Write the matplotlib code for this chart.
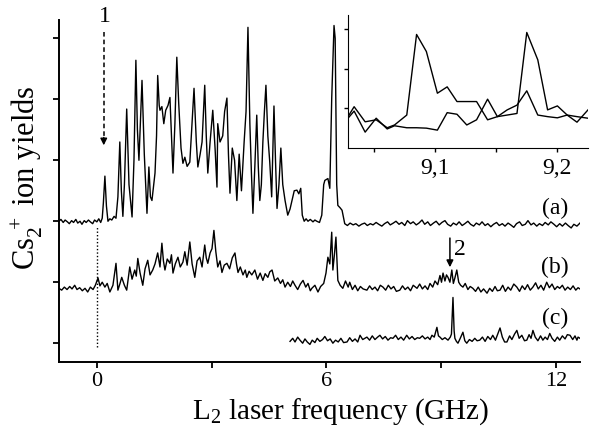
import numpy as np
import matplotlib.pyplot as plt

plt.rcParams['font.family'] = ['Liberation Serif', 'DejaVu Serif']
plt.rcParams['mathtext.fontset'] = 'custom'
plt.rcParams['mathtext.rm'] = 'Liberation Serif'
plt.rcParams['mathtext.it'] = 'Liberation Serif:italic'

# spectrum (a): (frequency GHz, yield)
trace_a = [
    (-0.99, 2.00), (-0.94, 2.03), (-0.88, 1.98), (-0.83, 2.02), (-0.77, 1.99), (-0.72, 1.96),
    (-0.66, 2.01), (-0.61, 1.98), (-0.55, 2.03), (-0.50, 1.97), (-0.44, 2.00), (-0.39, 1.95),
    (-0.33, 2.01), (-0.28, 1.98), (-0.22, 2.02), (-0.17, 1.99), (-0.11, 1.96), (-0.06, 2.02),
    (0.00, 1.99), (0.05, 2.04), (0.10, 1.98), (0.14, 2.05),
    (0.17, 2.30), (0.21, 2.74), (0.25, 2.25), (0.29, 2.00), (0.34, 2.04), (0.39, 2.02),
    (0.45, 2.08), (0.50, 2.05), (0.55, 2.40), (0.60, 3.30), (0.64, 2.50), (0.68, 2.08),
    (0.72, 2.60), (0.78, 3.84), (0.84, 2.60), (0.92, 2.07), (0.97, 3.00), (1.02, 4.64),
    (1.06, 3.50), (1.10, 3.00), (1.18, 4.31), (1.24, 3.10), (1.31, 2.13), (1.36, 2.89),
    (1.40, 2.40), (1.44, 2.34), (1.52, 2.79), (1.56, 3.40), (1.59, 4.39), (1.63, 3.90),
    (1.65, 3.82), (1.70, 3.88), (1.75, 3.60), (1.80, 3.82), (1.86, 3.90), (1.91, 4.03),
    (1.99, 2.79), (2.04, 3.60), (2.09, 4.69), (2.14, 3.93), (2.20, 3.20), (2.25, 2.95),
    (2.30, 3.05), (2.36, 2.90), (2.43, 2.97), (2.54, 4.18), (2.60, 3.30), (2.64, 2.89),
    (2.70, 3.10), (2.75, 3.30), (2.82, 4.23), (2.86, 3.40), (2.90, 2.79), (2.96, 3.30),
    (3.03, 3.82), (3.09, 3.20), (3.14, 2.56), (3.16, 3.60), (3.22, 3.30), (3.29, 3.40),
    (3.34, 3.80), (3.40, 4.02), (3.44, 3.10), (3.48, 2.46), (3.54, 3.20), (3.60, 3.00),
    (3.66, 2.34), (3.72, 3.10), (3.78, 2.50), (3.85, 3.30), (3.90, 3.80), (3.95, 5.18),
    (4.00, 3.60), (4.04, 2.80), (4.08, 2.13), (4.13, 2.90), (4.18, 3.74), (4.22, 2.90),
    (4.26, 2.34), (4.30, 2.60), (4.34, 3.30), (4.38, 3.80), (4.42, 4.23), (4.47, 3.40),
    (4.52, 2.97), (4.57, 2.40), (4.63, 3.89), (4.67, 3.00), (4.71, 2.21), (4.76, 2.60),
    (4.81, 3.20), (4.86, 2.60), (4.92, 2.34), (4.99, 2.10), (5.05, 2.20), (5.10, 2.34),
    (5.16, 2.50), (5.23, 2.51), (5.28, 2.45), (5.33, 2.54), (5.37, 2.10), (5.42, 2.00),
    (5.47, 2.04), (5.52, 2.00), (5.58, 2.03), (5.65, 1.99), (5.70, 2.02), (5.75, 2.00),
    (5.82, 1.98), (5.88, 2.10), (5.93, 2.60), (5.96, 2.67), (6.04, 2.70), (6.09, 2.54),
    (6.14, 4.02), (6.20, 5.21), (6.23, 5.00), (6.27, 2.60), (6.30, 2.26), (6.36, 2.22),
    (6.41, 2.18),
    (6.48, 1.96), (6.55, 1.93), (6.62, 1.97), (6.70, 1.94), (6.77, 1.96), (6.85, 1.92),
    (6.92, 1.95), (7.00, 1.97), (7.07, 1.93), (7.15, 1.96), (7.22, 1.94), (7.30, 1.98),
    (7.37, 1.95), (7.45, 1.92), (7.52, 1.96), (7.60, 1.99), (7.67, 1.94), (7.75, 1.97),
    (7.82, 2.00), (7.90, 1.95), (7.97, 1.98), (8.05, 1.93), (8.12, 2.01), (8.20, 1.96),
    (8.27, 1.99), (8.35, 1.94), (8.42, 1.97), (8.50, 2.02), (8.57, 1.95), (8.65, 1.99),
    (8.72, 1.93), (8.80, 1.97), (8.87, 2.00), (8.95, 1.94), (9.02, 1.98), (9.10, 2.01),
    (9.17, 1.95), (9.25, 1.92), (9.32, 1.97), (9.40, 1.94), (9.47, 1.99), (9.55, 1.93),
    (9.62, 1.96), (9.70, 2.00), (9.77, 1.95), (9.85, 1.92), (9.92, 1.97), (10.00, 1.94),
    (10.07, 1.99), (10.15, 1.93), (10.22, 1.96), (10.30, 1.91), (10.37, 1.95), (10.45, 1.98),
    (10.52, 1.93), (10.60, 1.96), (10.67, 1.92), (10.75, 1.97), (10.82, 1.94), (10.90, 1.90),
    (10.97, 1.96), (11.05, 1.99), (11.12, 1.93), (11.20, 1.95), (11.27, 2.01), (11.35, 1.94),
    (11.42, 1.97), (11.50, 1.92), (11.57, 1.96), (11.65, 1.93), (11.72, 1.98), (11.80, 1.94),
    (11.87, 1.99), (11.95, 1.95), (12.02, 1.91), (12.10, 1.96), (12.17, 1.92), (12.25, 1.97),
    (12.32, 1.93), (12.40, 1.89), (12.47, 1.95), (12.55, 1.92), (12.63, 1.97),
]

# spectrum (b)
trace_b = [
    (-0.99, 0.90), (-0.92, 0.87), (-0.85, 0.92), (-0.78, 0.88), (-0.71, 0.93), (-0.65, 0.89),
    (-0.58, 0.95), (-0.52, 0.88), (-0.45, 0.91), (-0.38, 0.86), (-0.31, 0.90), (-0.24, 0.84),
    (-0.17, 0.92), (-0.10, 0.88), (-0.04, 0.95), (0.03, 1.07), (0.08, 0.94), (0.14, 1.00),
    (0.21, 0.92), (0.27, 0.98), (0.34, 0.84), (0.42, 0.95), (0.50, 1.31), (0.55, 0.87),
    (0.60, 0.97), (0.65, 1.08), (0.72, 0.95), (0.78, 0.87), (0.86, 1.25), (0.92, 1.05),
    (0.99, 1.20), (1.03, 1.10), (1.07, 1.39), (1.13, 1.15), (1.20, 0.95), (1.26, 1.22),
    (1.33, 1.36), (1.39, 1.12), (1.46, 1.20), (1.52, 1.30), (1.59, 1.48), (1.65, 1.25),
    (1.70, 1.64), (1.74, 1.35), (1.78, 1.20), (1.84, 1.38), (1.91, 1.31), (1.95, 1.45),
    (1.99, 1.15), (2.05, 1.30), (2.12, 1.41), (2.18, 1.25), (2.25, 1.33), (2.30, 1.50),
    (2.36, 1.28), (2.43, 1.66), (2.49, 1.30), (2.56, 1.08), (2.62, 1.35), (2.69, 1.41),
    (2.75, 1.25), (2.82, 1.61), (2.86, 1.40), (2.90, 1.31), (2.96, 1.48), (3.01, 1.55),
    (3.06, 1.85), (3.11, 1.50), (3.16, 1.25), (3.22, 1.35), (3.27, 1.16), (3.33, 1.28),
    (3.40, 1.31), (3.47, 1.22), (3.54, 1.40), (3.61, 1.48), (3.65, 1.30), (3.69, 1.16),
    (3.75, 1.25), (3.82, 1.12), (3.88, 1.20), (3.92, 1.08), (3.98, 1.18), (4.05, 1.12),
    (4.13, 1.20), (4.20, 1.05), (4.27, 1.15), (4.34, 1.03), (4.40, 1.14), (4.47, 1.08),
    (4.52, 1.17), (4.58, 1.20), (4.65, 1.02), (4.73, 1.07), (4.80, 0.98), (4.86, 1.04),
    (4.92, 0.92), (4.99, 1.00), (5.06, 0.93), (5.12, 1.02), (5.18, 0.95), (5.25, 0.88),
    (5.32, 0.97), (5.39, 1.03), (5.46, 0.92), (5.52, 0.98), (5.58, 0.86), (5.62, 0.90),
    (5.70, 0.95), (5.78, 0.84), (5.85, 0.93), (5.93, 0.98), (5.99, 1.15), (6.04, 1.41),
    (6.09, 1.30), (6.14, 1.82), (6.17, 1.20), (6.21, 1.45), (6.25, 1.74), (6.30, 1.03),
    (6.36, 0.95), (6.43, 0.90), (6.50, 1.02), (6.57, 0.92), (6.61, 1.00), (6.68, 0.88),
    (6.75, 0.95), (6.82, 0.86), (6.89, 0.93), (6.96, 0.89), (7.06, 0.87), (7.13, 0.94),
    (7.20, 0.88), (7.27, 0.92), (7.34, 0.86), (7.41, 0.95), (7.48, 0.92), (7.55, 0.87),
    (7.62, 0.95), (7.69, 0.89), (7.76, 0.93), (7.83, 0.85), (7.92, 0.87), (7.99, 0.94),
    (8.06, 0.88), (8.13, 0.92), (8.20, 0.86), (8.27, 0.95), (8.37, 0.90), (8.44, 0.97),
    (8.51, 0.89), (8.58, 0.94), (8.65, 0.88), (8.71, 0.98), (8.78, 0.92), (8.84, 1.02),
    (8.91, 0.96), (8.97, 1.11), (9.01, 1.00), (9.05, 1.15), (9.10, 1.02), (9.14, 1.12),
    (9.18, 1.08), (9.23, 1.00), (9.28, 1.20), (9.32, 0.98), (9.36, 1.07), (9.41, 1.20),
    (9.46, 1.00), (9.51, 0.95), (9.57, 0.92), (9.63, 0.98), (9.70, 0.88), (9.76, 0.93),
    (9.83, 0.90), (9.90, 0.85), (9.97, 0.92), (10.04, 0.84), (10.11, 0.89), (10.20, 0.82),
    (10.27, 0.90), (10.34, 0.85), (10.41, 0.93), (10.47, 0.86), (10.54, 0.87), (10.61, 0.95),
    (10.68, 0.85), (10.75, 0.92), (10.82, 0.87), (10.90, 0.97), (10.98, 0.92), (11.05, 0.85),
    (11.12, 0.94), (11.19, 0.88), (11.26, 0.96), (11.33, 0.87), (11.40, 0.92), (11.47, 0.99),
    (11.54, 0.89), (11.61, 0.95), (11.68, 0.87), (11.76, 1.00), (11.83, 0.91), (11.90, 0.97),
    (11.97, 0.88), (12.04, 0.93), (12.10, 0.90), (12.17, 0.95), (12.24, 0.87), (12.31, 0.92),
    (12.38, 0.88), (12.45, 0.94), (12.52, 0.87), (12.58, 0.91), (12.63, 0.89),
]

# spectrum (c)
trace_c = [
    (5.05, 0.03), (5.12, 0.08), (5.18, 0.02), (5.25, 0.10), (5.31, 0.05), (5.38, 0.00),
    (5.44, 0.07), (5.50, 0.02), (5.57, -0.02), (5.63, 0.05), (5.70, 0.01), (5.76, 0.08),
    (5.83, 0.03), (5.90, 0.06), (5.96, 0.11), (6.03, 0.04), (6.10, 0.07), (6.17, 0.00),
    (6.24, 0.05), (6.31, 0.02), (6.38, 0.08), (6.45, 0.01), (6.54, 0.02), (6.61, 0.09),
    (6.68, 0.03), (6.75, 0.07), (6.82, 0.02), (6.88, 0.13), (6.95, 0.06), (7.06, 0.10),
    (7.13, 0.05), (7.20, 0.12), (7.27, 0.06), (7.34, 0.10), (7.40, 0.13), (7.47, 0.07),
    (7.54, 0.11), (7.61, 0.05), (7.68, 0.09), (7.74, 0.08), (7.81, 0.13), (7.88, 0.06),
    (7.95, 0.10), (8.02, 0.05), (8.10, 0.13), (8.17, 0.07), (8.24, 0.11), (8.31, 0.06),
    (8.38, 0.09), (8.44, 0.08), (8.51, 0.12), (8.58, 0.07), (8.65, 0.10), (8.71, 0.06),
    (8.76, 0.13), (8.82, 0.10), (8.89, 0.26), (8.93, 0.12), (8.97, 0.10), (9.03, 0.06),
    (9.10, 0.09), (9.18, 0.05), (9.24, 0.10), (9.27, 0.15), (9.31, 0.75), (9.34, 0.20),
    (9.36, 0.08), (9.40, 0.03), (9.44, 0.00), (9.50, 0.08), (9.57, 0.18), (9.62, 0.04),
    (9.67, 0.00), (9.74, 0.06), (9.81, 0.03), (9.88, 0.08), (9.94, 0.04), (10.01, 0.05),
    (10.08, 0.10), (10.15, 0.03), (10.22, 0.11), (10.29, 0.06), (10.35, 0.13), (10.42, 0.05),
    (10.48, 0.15), (10.54, 0.25), (10.60, 0.10), (10.66, 0.02), (10.72, 0.02), (10.79, 0.12),
    (10.85, 0.06), (10.92, 0.15), (10.98, 0.21), (11.04, 0.08), (11.11, 0.13), (11.18, 0.04),
    (11.24, 0.05), (11.30, 0.14), (11.35, 0.08), (11.40, 0.21), (11.46, 0.10), (11.53, 0.04),
    (11.60, 0.12), (11.66, 0.05), (11.72, 0.10), (11.78, 0.06), (11.84, 0.16), (11.90, 0.08),
    (11.97, 0.03), (12.04, 0.10), (12.10, 0.05), (12.17, 0.12), (12.24, 0.07), (12.30, 0.14),
    (12.37, 0.13), (12.44, 0.06), (12.50, 0.12), (12.55, 0.05), (12.58, 0.10), (12.63, 0.08),
]

# inset: high resolution scans near 9.1-9.2 GHz
inset_f = [9.029, 9.034, 9.043, 9.052, 9.061, 9.067, 9.077, 9.085, 9.093, 9.102,
           9.110, 9.118, 9.126, 9.134, 9.143, 9.151, 9.159, 9.167, 9.175, 9.184,
           9.192, 9.200, 9.208, 9.216, 9.225]
inset_1 = [0.79, 1.04, 0.66, 0.71, 0.51, 0.58, 0.83, 2.86, 2.43, 1.38,
           1.54, 1.17, 1.17, 1.17, 0.71, 0.79, 0.83, 0.87, 2.91, 2.22,
           0.96, 1.06, 0.83, 0.65, 0.96]
inset_2 = [0.75, 0.93, 0.40, 0.75, 0.48, 0.56, 0.51, 0.51, 0.50, 0.45,
           0.89, 0.85, 0.58, 0.71, 1.23, 0.79, 0.96, 1.08, 1.44, 0.83,
           0.79, 0.76, 0.83, 0.79, 0.75]

labels = ['(a)', '(b)', '(c)']
label_y = [2.21, 1.25, 0.41]

fa, va = np.array(trace_a).T
fb, vb = np.array(trace_b).T
fc, vc = np.array(trace_c).T

fig = plt.figure(figsize=(5.9, 4.26), dpi=100)
ax = fig.add_axes([0.100, 0.150, 0.883, 0.803])

for s in ['top', 'right']:
    ax.spines[s].set_visible(False)
for s in ['left', 'bottom']:
    ax.spines[s].set_linewidth(1.4)

ax.plot(fa, va, color='black', lw=1.0)
ax.plot(fb, vb, color='black', lw=1.0)
ax.plot(fc, vc, color='black', lw=1.0)

# dotted line at zero detuning
ax.plot([0, 0], [-0.07, 1.93], color='black', lw=1, ls=(0, (1, 1.5)))

# arrow 1 (dashed)
ax.plot([0.18, 0.18], [5.10, 3.40], color='black', lw=1.1, ls=(0, (3, 2)))
ax.annotate('', xy=(0.18, 3.20), xytext=(0.18, 3.42),
            arrowprops=dict(arrowstyle='-|>', color='black', lw=1, mutation_scale=10))
ax.text(0.21, 5.35, '1', ha='center', va='center', fontsize=17, clip_on=False)

# arrow 2
ax.annotate('', xy=(9.23, 1.20), xytext=(9.23, 1.77),
            arrowprops=dict(arrowstyle='-|>', color='black', lw=1.1, mutation_scale=10))
ax.text(9.50, 1.54, '2', ha='center', va='center', fontsize=17)

for lab, y in zip(labels, label_y):
    ax.text(11.97, y, lab, ha='center', va='center', fontsize=17)

ax.set_xlim(-0.99, 12.63)
ax.set_ylim(-0.31, 5.30)
ax.set_xticks([0, 3, 6, 9, 12])
ax.set_xticklabels(['0', '', '6', '', '12'])
ax.set_yticks([0, 1, 2, 3, 4, 5])
ax.set_yticklabels([])
ax.tick_params(direction='out', length=4, width=1.3, labelsize=16, pad=3)

fig.text(341 / 590, 7 / 426, r'L$_2$ laser frequency (GHz)', ha='center', va='baseline', fontsize=21)
fig.text(27 / 590, 1 - 178 / 426, r'Cs$_2^{\ +}$ ion yields', ha='center', va='center',
         rotation=90, fontsize=22)

# inset
axi = fig.add_axes([348 / 590, 1 - 148 / 426, 240 / 590, 133 / 426])
axi.set_facecolor('white')
for s in ['top', 'right']:
    axi.spines[s].set_visible(False)
axi.plot(inset_f, inset_1, color='black', lw=1.0)
axi.plot(inset_f, inset_2, color='black', lw=1.0)
axi.set_xlim(9.029, 9.225)
axi.set_ylim(0, 3.35)
axi.set_xticks([9.05, 9.1, 9.15, 9.2])
axi.set_xticklabels(['', '9,1', '', '9,2'])
axi.set_yticks([1, 2, 3])
axi.set_yticklabels([])
axi.tick_params(direction='out', length=3, width=1, labelsize=17, pad=4)

fig.savefig('out.png', dpi=100)
